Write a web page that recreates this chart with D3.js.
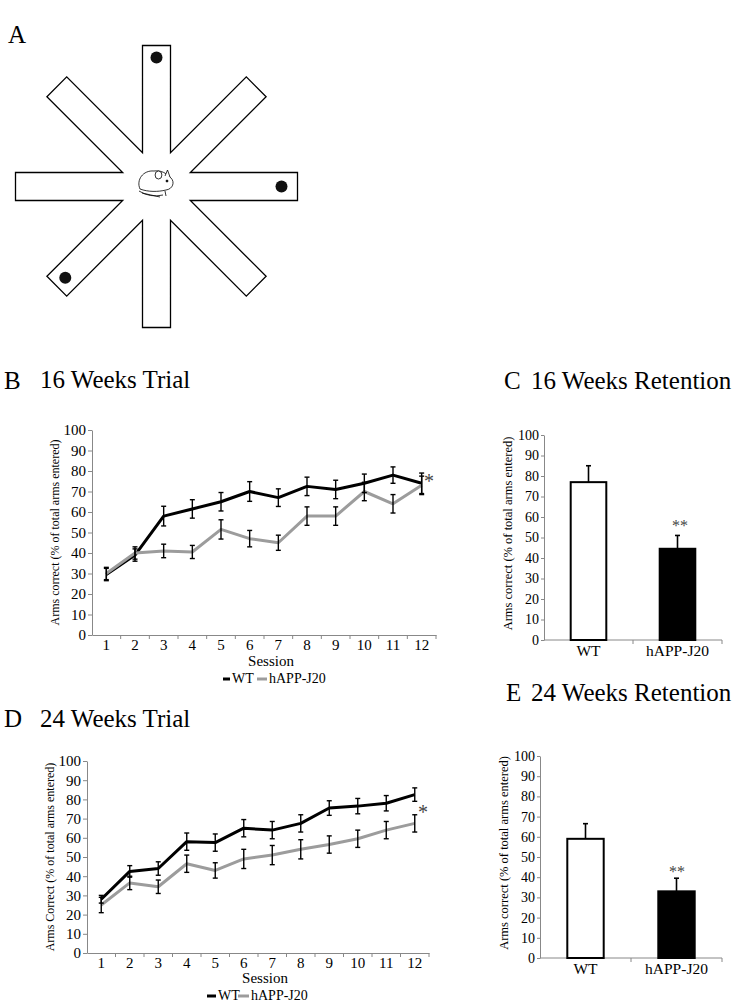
<!DOCTYPE html>
<html>
<head>
<meta charset="utf-8">
<script src="https://cdn.jsdelivr.net/npm/d3@7"></script>
<style>
  body { margin: 0; background: #fff; }
  svg text { font-family: 'Liberation Serif', 'DejaVu Serif', serif; }
</style>
</head>
<body>
<svg id="fig" width="740" height="1003"></svg>
<script>
// ---- data ----
var sessions = ["1", "2", "3", "4", "5", "6", "7", "8", "9", "10", "11", "12"];
var yTicks = [0, 10, 20, 30, 40, 50, 60, 70, 80, 90, 100];
var seriesNames = ["WT", "hAPP-J20"];

// 16 weeks trial
var wt16 = [29.5, 39, 58, 61.5, 65, 70, 67, 72.5, 71, 74, 78, 74];
var wt16Err = [3, 3, 4.8, 4.5, 4.5, 4.8, 4.3, 4.5, 4.5, 4.5, 4, 5];
var app16 = [30, 40, 41, 40.5, 51.5, 47, 45, 58, 58, 70, 64, 73];
var app16Err = [3, 3, 3.3, 3.2, 4.7, 4, 3.7, 4.5, 4.5, 4.5, 4.5, 4.5];

// 24 weeks trial
var wt24 = [28, 42.5, 44, 58, 57.5, 65, 64, 67.5, 75.5, 76.5, 78, 82.5];
var wt24Err = [2, 3, 3.5, 4.5, 4.5, 4.5, 4.5, 4.5, 3.8, 4, 4, 3.5];
var app24 = [25, 36.5, 34.5, 46.5, 43, 49, 51, 54, 56.5, 59.5, 64, 67.5];
var app24Err = [4, 3.5, 3.5, 4.5, 4, 5, 5, 5, 4.5, 4.5, 4.5, 4.5];

// retention
var ret16 = [77, 44.5];
var ret16Err = [8, 6.5];
var ret24 = [59, 33];
var ret24Err = [7.5, 6.5];

var serif = "'Liberation Serif', 'DejaVu Serif', serif";
var svg = d3.select("#fig");

// ---- panel A: radial arm maze ----
var maze = {cx: 156.5, cy: 186.5, L: 141, w: 14};
var armAngles = [0, 45, 90, 135, 180, 225, 270, 315];
var foodArms = [90, 0, 225];

function polar(r, deg) {
  var a = deg * Math.PI / 180;
  return [maze.cx + r * Math.cos(a), maze.cy - r * Math.sin(a)];
}

var verts = [];
var jr = maze.w / Math.sin(22.5 * Math.PI / 180);
var cr = Math.sqrt(maze.L * maze.L + maze.w * maze.w);
var ca = Math.atan(maze.w / maze.L) * 180 / Math.PI;
armAngles.forEach(function(t) {
  verts.push(polar(jr, t - 22.5));
  verts.push(polar(cr, t - ca));
  verts.push(polar(cr, t + ca));
});

svg.append("path")
  .attr("d", d3.line()(verts) + "Z")
  .attr("fill", "#fff")
  .attr("stroke", "#000")
  .attr("stroke-width", 1.3);

svg.selectAll("circle.food")
  .data(foodArms)
  .enter().append("circle")
    .attr("class", "food")
    .attr("cx", function(d) { return polar(d == 0 ? 125 : 129, d)[0]; })
    .attr("cy", function(d) { return polar(d == 0 ? 125 : 129, d)[1]; })
    .attr("r", 6)
    .attr("fill", "#111");

// little mouse in the middle
var mouse = svg.append("g")
  .attr("fill", "#fff")
  .attr("stroke", "#000")
  .attr("stroke-width", 0.8);
mouse.append("path")
  .attr("d", "M140,189 C136,180 143,170 154,171 C161,170 166,173 171,178 C175,182 173,189 166,190 C158,192 148,192 140,189 Z");
mouse.append("ellipse").attr("cx", 158.5).attr("cy", 175).attr("rx", 3.4).attr("ry", 4);
mouse.append("path").attr("d", "M165,176 L167.5,170 L170,177");
mouse.append("path").attr("fill", "none").attr("d", "M139,191 Q150,198 163,195 M142,193 L160,197 M165,191 L166,196");
mouse.append("circle").attr("cx", 167).attr("cy", 181).attr("r", 1).attr("fill", "#000");

// ---- helpers ----
function txt(x, y, s, size, anchor) {
  return svg.append("text")
    .attr("x", x).attr("y", y)
    .attr("font-family", serif)
    .attr("font-size", size)
    .attr("text-anchor", anchor || "start")
    .attr("fill", "#000")
    .text(s);
}

function styleYAxis(ax, fs) {
  ax.attr("font-family", serif).attr("font-size", fs);
  ax.select(".domain").attr("stroke", "#888");
  ax.selectAll(".tick line").attr("stroke", "#888");
  ax.selectAll(".tick text").attr("fill", "#000");
}

function lineChart(o) {
  var x = d3.scaleBand().domain(sessions).range([o.x0, o.x1]);
  var y = d3.scaleLinear().domain([0, 100]).range([o.yB, o.yT]);
  var half = x.bandwidth() / 2;
  var g = svg.append("g");

  var ya = g.append("g")
    .attr("transform", "translate(" + o.x0 + ",0)")
    .call(d3.axisLeft(y).tickValues(yTicks).tickSize(4).tickSizeOuter(0).tickPadding(2));
  styleYAxis(ya, 15);

  var xa = g.append("g")
    .attr("transform", "translate(0," + o.yB + ")")
    .call(d3.axisBottom(x).tickSize(0).tickSizeOuter(0).tickPadding(4));
  xa.attr("font-family", serif).attr("font-size", 15);
  xa.select(".domain").attr("stroke", "#888");
  xa.selectAll(".tick text").attr("fill", "#000").attr("dy", "0.71em");

  g.selectAll("line.bnd")
    .data(sessions)
    .enter().append("line")
      .attr("x1", function(d) { return x(d) + x.bandwidth(); })
      .attr("x2", function(d) { return x(d) + x.bandwidth(); })
      .attr("y1", o.yB).attr("y2", o.yB + 4)
      .attr("stroke", "#888");

  var line = d3.line()
    .x(function(d, i) { return x(sessions[i]) + half; })
    .y(function(d) { return y(d); });

  var series = [
    {v: o.wt, e: o.wtErr, c: "#000"},
    {v: o.app, e: o.appErr, c: "#9c9c9c"}
  ];

  series.forEach(function(s) {
    g.append("path")
      .attr("d", line(s.v))
      .attr("fill", "none")
      .attr("stroke", s.c)
      .attr("stroke-width", 3)
      .attr("stroke-linejoin", "round");
  });

  series.forEach(function(s) {
    var eb = g.append("g").attr("stroke", "#000").attr("stroke-width", 1.4);
    s.v.forEach(function(v, i) {
      var cx = x(sessions[i]) + half;
      eb.append("line").attr("x1", cx).attr("x2", cx).attr("y1", y(v - s.e[i])).attr("y2", y(v + s.e[i]));
      eb.append("line").attr("x1", cx - 2.5).attr("x2", cx + 2.5).attr("y1", y(v - s.e[i])).attr("y2", y(v - s.e[i]));
      eb.append("line").attr("x1", cx - 2.5).attr("x2", cx + 2.5).attr("y1", y(v + s.e[i])).attr("y2", y(v + s.e[i]));
    });
  });

  svg.append("text")
    .attr("transform", "translate(" + o.titleX + "," + ((o.yB + o.yT) / 2) + ") rotate(-90)")
    .attr("text-anchor", "middle")
    .attr("dy", "0.35em")
    .attr("font-family", serif)
    .attr("font-size", 12)
    .text(o.yTitle);

  txt(o.sessX, o.sessY, "Session", 15, "middle");

  // legend
  var lg = o.legend;
  svg.append("line").attr("x1", lg[0]).attr("x2", lg[1]).attr("y1", lg[4] - 4).attr("y2", lg[4] - 4)
    .attr("stroke", "#000").attr("stroke-width", 3);
  txt(lg[1] + 2, lg[4], seriesNames[0], 14);
  svg.append("line").attr("x1", lg[2]).attr("x2", lg[3]).attr("y1", lg[4] - 4).attr("y2", lg[4] - 4)
    .attr("stroke", "#9c9c9c").attr("stroke-width", 3);
  txt(lg[3] + 2, lg[4], seriesNames[1], 14);

  txt(o.star[0], o.star[1], "*", 20, "middle").attr("fill", "#444");
}

function barChart(o) {
  var x = d3.scaleBand().domain(seriesNames).range([o.x0, o.x1]);
  var y = d3.scaleLinear().domain([0, 100]).range([o.yB, o.yT]);
  var bw = x.bandwidth() * 0.4;
  var g = svg.append("g");

  var ya = g.append("g")
    .attr("transform", "translate(" + o.x0 + ",0)")
    .call(d3.axisLeft(y).tickValues(yTicks).tickSize(3).tickSizeOuter(0).tickPadding(2));
  styleYAxis(ya, 14);

  g.append("line")
    .attr("x1", o.x0).attr("x2", o.x1).attr("y1", o.yB).attr("y2", o.yB)
    .attr("stroke", "#888");
  g.selectAll("line.bnd")
    .data(seriesNames)
    .enter().append("line")
      .attr("x1", function(d) { return x(d) + x.bandwidth(); })
      .attr("x2", function(d) { return x(d) + x.bandwidth(); })
      .attr("y1", o.yB).attr("y2", o.yB + 4)
      .attr("stroke", "#888");

  g.selectAll("rect")
    .data(o.vals)
    .enter().append("rect")
      .attr("x", function(d, i) { return x(seriesNames[i]) + (x.bandwidth() - bw) / 2; })
      .attr("y", function(d) { return y(d); })
      .attr("width", bw)
      .attr("height", function(d) { return o.yB - y(d); })
      .attr("fill", function(d, i) { return i == 0 ? "#fff" : "#000"; })
      .attr("stroke", "#000")
      .attr("stroke-width", 2);

  o.vals.forEach(function(v, i) {
    var cx = x(seriesNames[i]) + x.bandwidth() / 2;
    g.append("line").attr("x1", cx).attr("x2", cx).attr("y1", y(v)).attr("y2", y(v + o.errs[i]))
      .attr("stroke", "#000").attr("stroke-width", 1.6);
    g.append("line").attr("x1", cx - 2.5).attr("x2", cx + 2.5).attr("y1", y(v + o.errs[i])).attr("y2", y(v + o.errs[i]))
      .attr("stroke", "#000").attr("stroke-width", 1.6);
    txt(cx, o.yB + 16, seriesNames[i], 15.5, "middle");
  });

  txt(o.star[0], o.star[1], "**", 16, "middle").attr("fill", "#444");

  svg.append("text")
    .attr("transform", "translate(" + o.titleX + "," + ((o.yB + o.yT) / 2 - 4) + ") rotate(-90)")
    .attr("text-anchor", "middle")
    .attr("dy", "0.35em")
    .attr("font-family", serif)
    .attr("font-size", 12.5)
    .text("Arms correct (% of total arms entered)");
}

// ---- panel titles ----
txt(8, 43, "A", 25);
txt(4, 389, "B", 25);
txt(40, 388, "16 Weeks Trial", 25);
txt(504, 389, "C", 25);
txt(531, 389, "16 Weeks Retention", 25);
txt(4, 727, "D", 25);
txt(40, 727, "24 Weeks Trial", 25);
txt(506, 701, "E", 25);
txt(531, 701, "24 Weeks Retention", 25);

lineChart({
  x0: 92, x1: 436, yT: 430, yB: 635,
  wt: wt16, wtErr: wt16Err, app: app16, appErr: app16Err,
  yTitle: "Arms correct (% of total arms entered)", titleX: 55,
  sessX: 271, sessY: 666,
  legend: [223, 230, 257, 267, 683],
  star: [429, 488]
});

lineChart({
  x0: 87, x1: 429, yT: 761, yB: 953,
  wt: wt24, wtErr: wt24Err, app: app24, appErr: app24Err,
  yTitle: "Arms Correct (% of total arms entered)", titleX: 50,
  sessX: 265, sessY: 983,
  legend: [207, 216, 238, 249, 1000],
  star: [423, 819]
});

barChart({
  x0: 544, x1: 722, yT: 435, yB: 640,
  vals: ret16, errs: ret16Err,
  titleX: 508, star: [680, 531]
});

barChart({
  x0: 540, x1: 722, yT: 756, yB: 958,
  vals: ret24, errs: ret24Err,
  titleX: 504, star: [677, 877]
});
</script>
</body>
</html>
